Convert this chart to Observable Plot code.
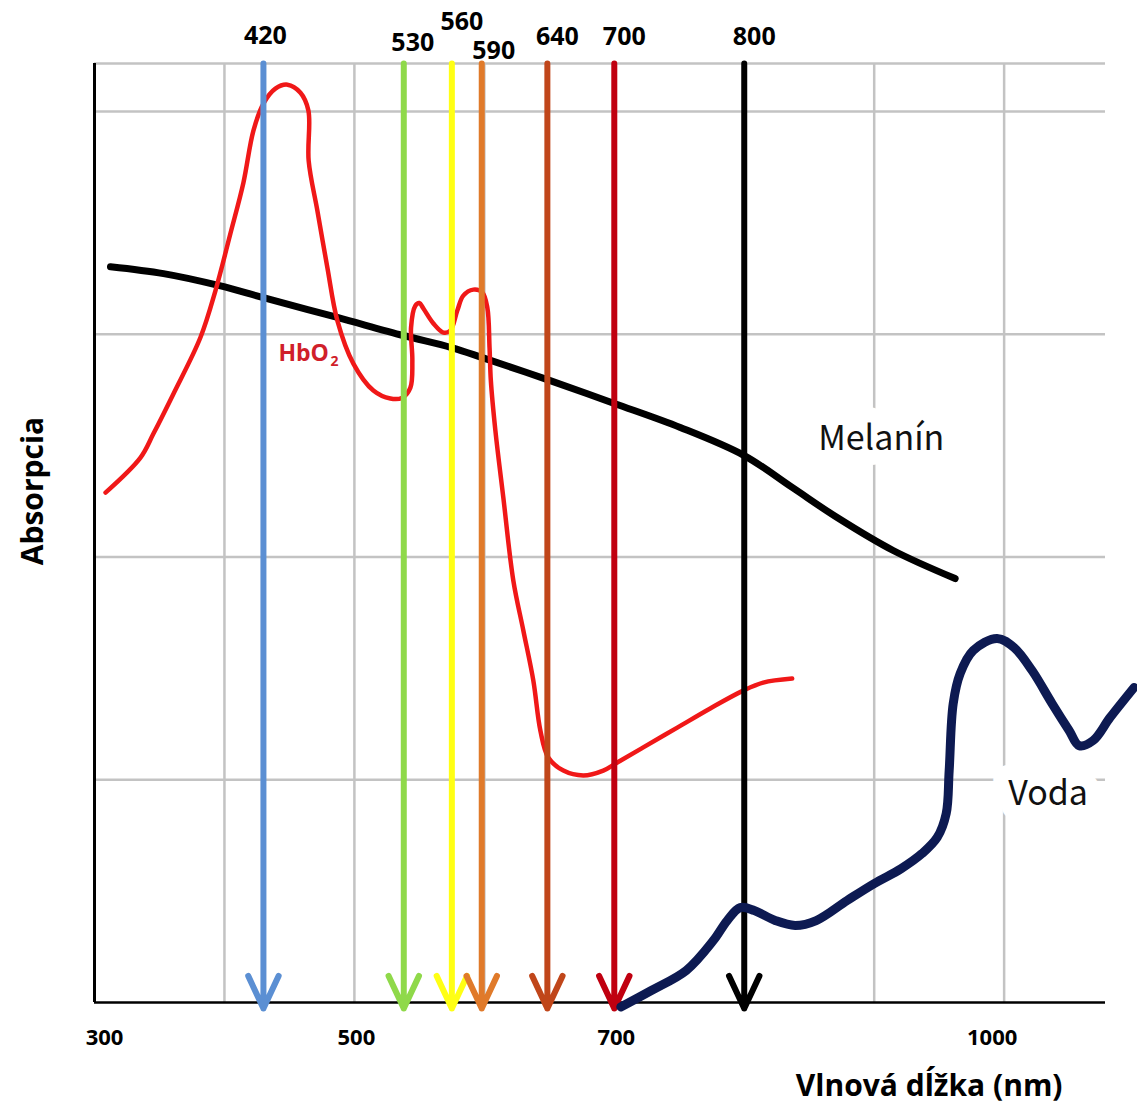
<!DOCTYPE html>
<html><head><meta charset="utf-8">
<script src="https://cdn.jsdelivr.net/npm/d3@7"></script>
<script src="https://cdn.jsdelivr.net/npm/@observablehq/plot@0.6"></script>
<style>html,body{margin:0;padding:0;background:#fff;} #chart svg{display:block;}</style>
</head><body><div id="chart"></div>
<script>
// ---------- data ----------
const arrowLabels = ["420", "530", "560", "590", "640", "700", "800"];
const arrowPositions = [430, 538, 575, 598, 648.5, 700, 800];

const hbo2 = [
  [308.5, 2.289], [335.4, 2.446], [345.4, 2.554], [360.8, 2.733], [381.5, 2.985],
  [393.1, 3.196], [404.6, 3.452], [414.6, 3.680], [422.3, 3.914], [430.0, 4.035],
  [439.2, 4.102], [448.5, 4.120], [458.5, 4.084], [464.6, 4.004], [464.8, 3.779],
  [471.5, 3.555], [479.2, 3.299], [486.9, 3.061], [499.2, 2.868], [514.6, 2.747],
  [527.7, 2.711], [536.9, 2.715], [543.1, 2.760], [544.6, 2.882], [543.6, 3.030],
  [546.9, 3.128], [550.0, 3.140], [553.1, 3.115], [560.8, 3.048], [568.5, 3.007],
  [573.8, 3.016], [579.2, 3.106], [583.8, 3.173], [591.5, 3.200], [598.5, 3.187],
  [602.3, 3.119], [604.0, 2.940], [605.0, 2.792], [608.5, 2.567], [614.6, 2.267],
  [622.3, 1.894], [630.0, 1.670], [637.7, 1.445], [643.1, 1.221], [649.2, 1.100],
  [660.8, 1.041], [676.2, 1.019], [691.5, 1.041], [702.3, 1.077], [722.3, 1.145],
  [748.5, 1.234], [773.8, 1.320], [799.2, 1.400], [814.6, 1.436], [836.9, 1.454]
];

const melanin = [
  [312.3, 3.303], [353.1, 3.272], [396.2, 3.218], [430.0, 3.164], [486.9, 3.075],
  [537.7, 2.994], [574.6, 2.940], [598.5, 2.895], [648.5, 2.796], [700.0, 2.689],
  [750.8, 2.581], [800.0, 2.455], [836.9, 2.312], [871.5, 2.177], [914.6, 2.029],
  [962.3, 1.903]
];

const water = [
  [705.0, -0.02], [728.5, 0.054], [755.4, 0.144], [776.2, 0.278], [786.9, 0.368],
  [796.9, 0.426], [807.7, 0.413], [823.8, 0.368], [839.2, 0.346], [855.4, 0.368],
  [879.2, 0.458], [900.0, 0.534], [920.8, 0.601], [936.9, 0.669], [948.5, 0.741],
  [955.4, 0.848], [957.7, 1.041], [960.8, 1.342], [966.2, 1.477], [976.2, 1.580],
  [994.6, 1.634], [1007.7, 1.593], [1021.5, 1.490], [1036.9, 1.342], [1050.0, 1.221],
  [1057.7, 1.153], [1068.5, 1.176], [1081.5, 1.279], [1100.0, 1.414]
];

const seriesLabels = [
  {name: "Melanín", x: 905.4, y: 2.527},
  {name: "Voda", x: 1033.8, y: 0.934}
];
const hbo2Label = [{name: "HbO", sub: "2", x: 441.5, y: 2.913}];

const xTicks = [300, 500, 700, 1000];
const xGrid = [400, 500, 600, 700, 800, 900, 1000];
const yGrid = [1, 2, 3, 4];
const xTitle = "Vlnová dĺžka (nm)";
const yTitle = "Absorpcia";

// ---------- styling ----------
const arrowColors = ["#5b8fd3", "#8fd94a", "#ffff14", "#e07a2a", "#c0461a", "#c00010", "#000000"];
const xDomain = [300, 1078];
const yDomain = [0, 4.215];
const gridColor = "#c3c3c3";
const boldFont = "'Open Sans', 'Liberation Sans', sans-serif";
const lightFont = "'Noto Sans CJK JP', 'Noto Sans', sans-serif";

const arrows = arrowLabels.map((label, i) => ({label, pos: arrowPositions[i], color: arrowColors[i]}));

function arrowLabel(filter, dx, dy) {
  return Plot.text(arrows, {
    filter, x: "pos", text: "label", frameAnchor: "top", lineAnchor: "middle", dx, dy,
    fontSize: 25, fontWeight: "bold", fontFamily: boldFont, fill: "black"
  });
}

function tickLabels(values, dx) {
  return Plot.axisX(values, {tickSize: 0, tickPadding: 27, dx, fontSize: 22, fontWeight: "bold",
    fontFamily: boldFont, label: null, fill: "black", tickFormat: d => String(d)});
}

const chart = Plot.plot({
  width: 1137, height: 1107,
  marginLeft: 94, marginRight: 32, marginTop: 63, marginBottom: 105,
  x: {domain: xDomain, axis: null},
  y: {domain: yDomain, axis: null},
  color: {type: "identity"},
  style: {background: "white", overflow: "visible"},
  marks: [
    Plot.gridX(xGrid, {stroke: gridColor, strokeOpacity: 1, strokeWidth: 2.5}),
    Plot.gridY(yGrid, {stroke: gridColor, strokeOpacity: 1, strokeWidth: 2.5}),
    Plot.ruleY([yDomain[1]], {stroke: gridColor, strokeWidth: 2.5}),
    Plot.ruleX([xDomain[0]], {stroke: "black", strokeWidth: 3}),
    Plot.ruleY([0], {stroke: "black", strokeWidth: 2.5}),
    tickLabels(xTicks.filter(d => d === 300), 10),
    tickLabels(xTicks.filter(d => d === 500 || d === 700), 2),
    tickLabels(xTicks.filter(d => d === 1000), -12),
    // series labels with white boxes
    Plot.text(seriesLabels, {x: "x", y: "y", text: "name", fontSize: 34, fontFamily: lightFont,
      fill: "#111", stroke: "white", strokeWidth: 30, strokeLinejoin: "round", paintOrder: "stroke"}),
    Plot.text(hbo2Label, {x: "x", y: "y", text: "name", textAnchor: "start", fontSize: 23, fontWeight: "bold",
      fontFamily: boldFont, fill: "#d0202a"}),
    Plot.text(hbo2Label, {x: "x", y: "y", text: "sub", textAnchor: "start", dx: 52, dy: 8, fontSize: 14, fontWeight: "bold",
      fontFamily: boldFont, fill: "#d0202a"}),
    // curves
    Plot.line(melanin, {x: d => d[0], y: d => d[1], curve: "catmull-rom", stroke: "black", strokeWidth: 7}),
    Plot.line(hbo2, {x: d => d[0], y: d => d[1], curve: "catmull-rom", stroke: "#f01818", strokeWidth: 4.5}),
    // arrows
    Plot.arrow(arrows, {x1: "pos", x2: "pos", y1: yDomain[1], y2: -0.027, stroke: "color", strokeWidth: 6,
      headAngle: 50, headLength: 9}),
    Plot.line(water, {x: d => d[0], y: d => d[1], curve: "catmull-rom", stroke: "#0d1a52", strokeWidth: 9}),
    // arrow labels
    arrowLabel(d => d.label === "420", 2, -28),
    arrowLabel(d => ["640", "700", "800"].includes(d.label), 10, -27),
    arrowLabel(d => d.label === "530", 9, -21),
    arrowLabel(d => d.label === "560", 10, -42),
    arrowLabel(d => d.label === "590", 12, -13),
    // axis titles
    Plot.text([xTitle], {frameAnchor: "bottom-right", textAnchor: "end", lineAnchor: "middle", dx: -43, dy: 84,
      fontSize: 30, fontWeight: "bold", fontFamily: boldFont, fill: "black"}),
    Plot.text([yTitle], {frameAnchor: "left", textAnchor: "middle", lineAnchor: "middle", rotate: -90, dx: -61, dy: -42,
      fontSize: 30, fontWeight: "bold", fontFamily: boldFont, fill: "black"})
  ]
});
document.getElementById("chart").appendChild(chart);
</script>
</body></html>
